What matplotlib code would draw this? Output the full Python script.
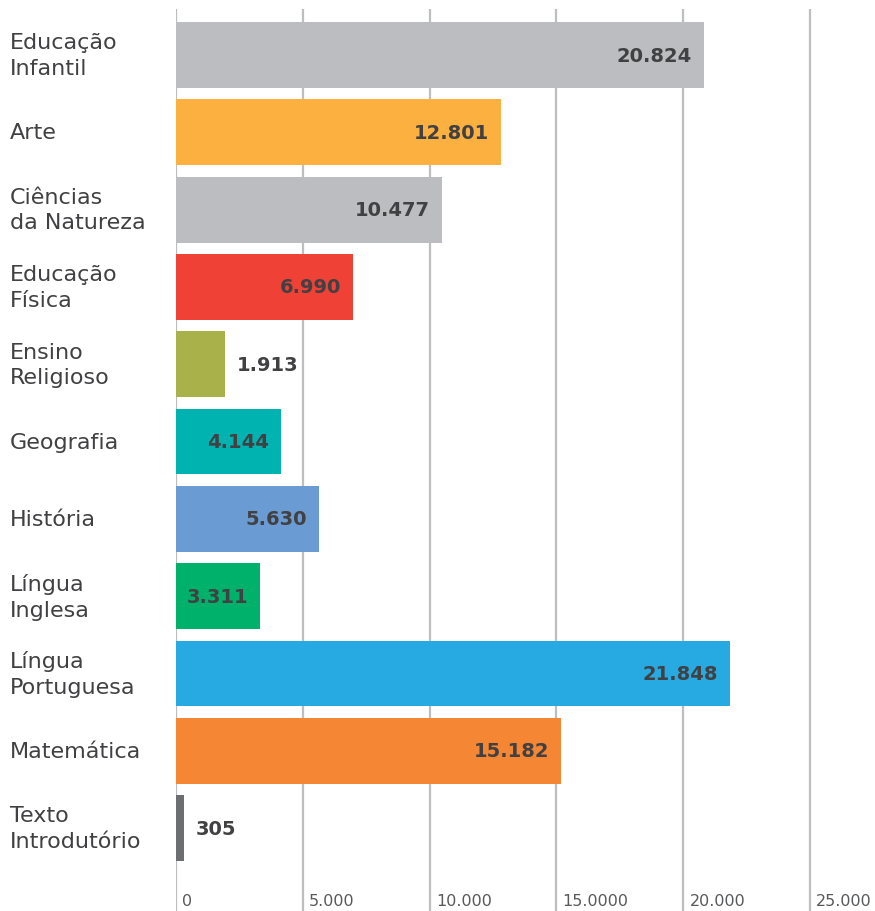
import numpy as np
import matplotlib
matplotlib.use("Agg")
import matplotlib.pyplot as plt
import matplotlib.transforms as mtransforms

# Données
categories = ["Educação\nInfantil", "Arte", "Ciências\nda Natureza", "Educação\nFísica",
              "Ensino\nReligioso", "Geografia", "História", "Língua\nInglesa",
              "Língua\nPortuguesa", "Matemática", "Texto\nIntrodutório"]
values = [20824, 12801, 10477, 6990, 1913, 4144, 5630, 3311, 21848, 15182, 305]
value_labels = ["20.824", "12.801", "10.477", "6.990", "1.913", "4.144", "5.630",
                "3.311", "21.848", "15.182", "305"]
colors = ["#BCBDC0", "#FBB040", "#BCBDC0", "#EF4136", "#A8B14A", "#00B3B0",
          "#6A9BD2", "#00B16B", "#27AAE1", "#F58634", "#6D6E71"]
ticks = [0, 5000, 10000, 15000, 20000, 25000]
tick_labels = ["0", "5.000", "10.000", "15.0000", "20.000", "25.000"]

W, H = 875, 912
fig = plt.figure(figsize=(W / 100, H / 100), dpi=100)
ax = fig.add_axes([176 / W, 0, 1 - 176 / W, 1 - 10 / H])

px_per_unit = 126.8 / 5000
ax.set_xlim(0, (W - 176) / px_per_unit)
ax.set_ylim(11.07, -0.595)

for t in ticks:
    ax.axvline(t, color="#BCBEC0", lw=1.6, zorder=0)

y = np.arange(len(values))
ax.barh(y, values, height=0.85, color=colors, zorder=2)

for i, v in enumerate(values):
    if v > 3000:
        ax.text(v - 470, i, value_labels[i], ha="right", va="center",
                fontsize=14, fontweight="bold", color="#414042", zorder=3)
    else:
        ax.text(v + 470, i, value_labels[i], ha="left", va="center",
                fontsize=14, fontweight="bold", color="#414042", zorder=3)

# libellés des catégories
trans = mtransforms.blended_transform_factory(fig.transFigure, ax.transData)
for i, c in enumerate(categories):
    fig.text(10 / W, i, c, transform=trans, ha="left", va="center",
             fontsize=16, color="#414042", linespacing=1.35)

# graduations en bas
trans2 = mtransforms.blended_transform_factory(ax.transData, fig.transFigure)
for t, lab in zip(ticks, tick_labels):
    fig.text(t + 250, 3 / H, lab, transform=trans2, ha="left", va="bottom",
             fontsize=11.5, color="#58595B")

ax.set_xticks([])
ax.set_yticks([])
for s in ax.spines.values():
    s.set_visible(False)

fig.savefig("out.png", dpi=100)
